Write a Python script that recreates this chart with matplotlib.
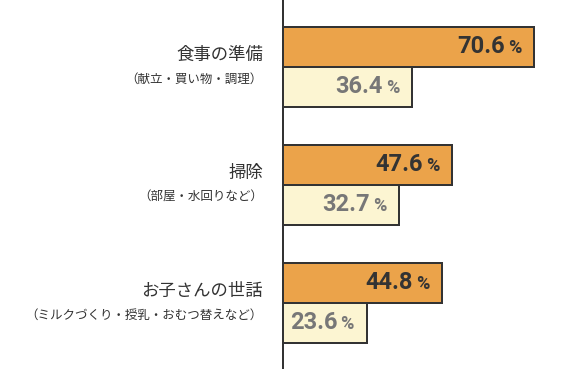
import matplotlib
matplotlib.use("Agg")
import matplotlib.pyplot as plt
from matplotlib.offsetbox import TextArea, HPacker, AnnotationBbox

categories = ["食事の準備", "掃除", "お子さんの世話"]
subtitles = ["（献立・買い物・調理）", "（部屋・水回りなど）", "（ミルクづくり・授乳・おむつ替えなど）"]
series_a = [70.6, 47.6, 44.8]
series_b = [36.4, 32.7, 23.6]

DPI = 100
PT = 72.0 / DPI  # points per pixel
fig = plt.figure(figsize=(5.66, 3.69), dpi=DPI)
ax = fig.add_axes([283 / 566, 0, 1 - 283 / 566, 1])

c_a = "#EBA34A"
c_b = "#FCF5D2"
edge = "#333333"
h = 40 / 118.0

ys = list(range(len(categories)))
for i, (a, b) in enumerate(zip(series_a, series_b)):
    ax.barh(i - h / 2, a, height=h, color=c_a, edgecolor=edge, linewidth=2 * PT, zorder=2)
    ax.barh(i + h / 2, b, height=h, color=c_b, edgecolor=edge, linewidth=2 * PT, zorder=2)

ax.set_xlim(0, 79.6)
ax.set_ylim(2.56, -0.566)
for s in ["top", "right", "bottom"]:
    ax.spines[s].set_visible(False)
ax.spines["left"].set_color(edge)
ax.spines["left"].set_linewidth(2 * PT)
ax.spines["left"].set_zorder(3)
ax.set_xticks([])
ax.set_yticks([])

jp = ["Noto Sans CJK JP", "DejaVu Sans"]
num = ["Roboto", "DejaVu Sans"]


def value_label(val, y, color, size_num, size_pct):
    t1 = TextArea(f"{val:.1f}", textprops=dict(family=num, weight="bold", size=size_num, color=color))
    t2 = TextArea("%", textprops=dict(family=num, weight="bold", size=size_pct, color=color))
    box = HPacker(children=[t1, t2], align="baseline", pad=0, sep=3 * PT)
    ab = AnnotationBbox(box, (val, y), xybox=(-13 * PT, 0), xycoords="data",
                        boxcoords="offset points", box_alignment=(1, 0.5), frameon=False, zorder=4)
    ax.add_artist(ab)


for i in ys:
    value_label(series_a[i], i - h / 2, "#333333", 17, 13)
    value_label(series_b[i], i + h / 2, "#777777", 17, 13)
    ax.annotate(categories[i], (0, i), xytext=(-20 * PT, 12 * PT), textcoords="offset points",
                ha="right", va="center", family=jp, size=12.5, color="#333333", annotation_clip=False)
    ax.annotate(subtitles[i], (0, i), xytext=(-20 * PT, -12.5 * PT), textcoords="offset points",
                ha="right", va="center", family=jp, size=9, color="#333333", annotation_clip=False)

fig.savefig("out.png", dpi=DPI)
